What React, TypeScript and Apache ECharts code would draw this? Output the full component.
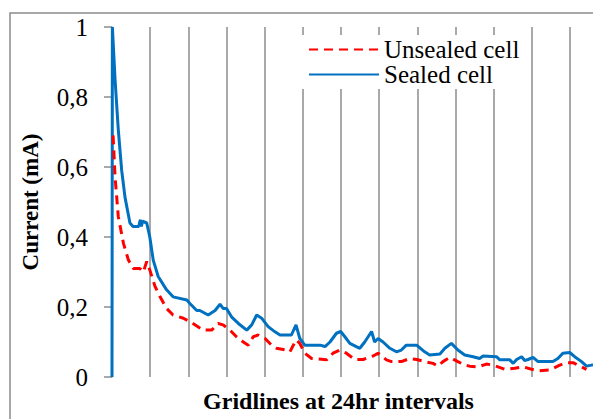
import React, { useEffect, useRef } from "react";
import * as echarts from "echarts";

// x in days (gridlines at 24 h intervals), y in mA
const sealedDays = [0, 0.01, 0.08, 0.165, 0.254, 0.34, 0.47, 0.55, 0.7, 0.73, 0.75, 0.77, 0.8, 0.91, 0.99, 1.08, 1.21, 1.43, 1.6, 1.96, 2.04, 2.22, 2.3, 2.52, 2.7, 2.83, 2.91, 3.0, 3.13, 3.31, 3.53, 3.66, 3.79, 3.92, 4.09, 4.27, 4.4, 4.7, 4.82, 4.92, 5.05, 5.45, 5.58, 5.71, 5.88, 5.99, 6.1, 6.23, 6.49, 6.62, 6.8, 6.88, 6.97, 7.1, 7.28, 7.45, 7.58, 7.71, 7.98, 8.19, 8.32, 8.59, 8.72, 8.89, 9.06, 9.24, 9.46, 9.63, 9.72, 10.07, 10.16, 10.42, 10.51, 10.6, 10.73, 10.81, 10.9, 11.03, 11.16, 11.55, 11.68, 11.81, 11.99, 12.12, 12.3, 12.43, 12.56, 12.6];
const sealedValues = [0, 1.0, 0.85, 0.706, 0.59, 0.514, 0.44, 0.43, 0.43, 0.445, 0.449, 0.43, 0.445, 0.44, 0.4, 0.334, 0.287, 0.249, 0.229, 0.22, 0.21, 0.19, 0.19, 0.177, 0.19, 0.208, 0.196, 0.196, 0.172, 0.153, 0.134, 0.149, 0.177, 0.168, 0.144, 0.129, 0.12, 0.12, 0.149, 0.11, 0.091, 0.091, 0.087, 0.1, 0.125, 0.13, 0.115, 0.096, 0.082, 0.1, 0.13, 0.1, 0.11, 0.1, 0.082, 0.072, 0.077, 0.091, 0.091, 0.072, 0.063, 0.066, 0.082, 0.096, 0.077, 0.063, 0.058, 0.053, 0.06, 0.058, 0.049, 0.049, 0.039, 0.05, 0.058, 0.047, 0.05, 0.056, 0.044, 0.044, 0.053, 0.068, 0.07, 0.058, 0.044, 0.031, 0.034, 0.035];

const unsealedDays = [0.02, 0.03, 0.08, 0.165, 0.3, 0.43, 0.56, 0.73, 0.82, 0.91, 0.99, 1.13, 1.26, 1.43, 1.6, 1.87, 2.09, 2.39, 2.61, 2.78, 2.91, 3.09, 3.26, 3.44, 3.57, 3.7, 3.83, 4.01, 4.18, 4.31, 4.57, 4.66, 4.82, 4.92, 5.05, 5.23, 5.62, 5.79, 5.97, 6.14, 6.36, 6.58, 6.84, 6.97, 7.19, 7.32, 7.58, 7.8, 7.98, 8.19, 8.41, 8.54, 8.67, 8.85, 9.06, 9.24, 9.37, 9.59, 9.81, 9.98, 10.29, 10.55, 10.77, 10.99, 11.2, 11.47, 11.73, 11.9, 12.08, 12.25, 12.43];
const unsealedValues = [0.69, 0.687, 0.572, 0.458, 0.382, 0.334, 0.31, 0.31, 0.3, 0.33, 0.306, 0.258, 0.229, 0.196, 0.177, 0.168, 0.155, 0.134, 0.134, 0.153, 0.149, 0.134, 0.115, 0.1, 0.091, 0.115, 0.12, 0.11, 0.091, 0.082, 0.077, 0.072, 0.106, 0.096, 0.068, 0.053, 0.049, 0.068, 0.077, 0.068, 0.05, 0.05, 0.06, 0.068, 0.049, 0.044, 0.044, 0.053, 0.05, 0.044, 0.039, 0.031, 0.044, 0.056, 0.044, 0.034, 0.031, 0.029, 0.037, 0.034, 0.022, 0.025, 0.029, 0.022, 0.018, 0.02, 0.034, 0.041, 0.041, 0.031, 0.022];

const yTickLabels = ["0", "0,2", "0,4", "0,6", "0,8", "1"];
const seriesNames = ["Unsealed cell", "Sealed cell"];

const serif = "'Liberation Serif', 'Times New Roman', serif";

export default function App() {
  const ref = useRef<HTMLDivElement>(null);
  useEffect(() => {
    if (!ref.current) return;
    const chart = echarts.init(ref.current, null, { renderer: "svg" });
    const zip = (xs: number[], ys: number[]) => xs.map((x, i) => [x, ys[i]]);
    chart.setOption({
      animation: false,
      backgroundColor: "#fff",
      graphic: [
        {
          type: "rect",
          shape: { x: 10, y: 13, width: 640, height: 440 },
          style: { fill: "none", stroke: "#8c8c8c", lineWidth: 1.5 },
          silent: true,
          z: -1,
        },
      ],
      grid: { left: 112, right: 0, top: 27, bottom: 42 },
      legend: {
        orient: "vertical",
        left: 298,
        top: 35,
        backgroundColor: "#fff",
        padding: [2, 10, 2, 10],
        itemGap: 0,
        itemWidth: 70,
        itemHeight: 14,
        data: seriesNames,
        itemStyle: { opacity: 0 },
        textStyle: { fontFamily: serif, fontSize: 25, color: "#000" },
      },
      xAxis: {
        type: "value",
        min: 0,
        max: 12.6,
        interval: 1,
        name: "Gridlines at 24hr intervals",
        nameLocation: "middle",
        nameGap: 12,
        nameTextStyle: {
          fontFamily: serif,
          fontSize: 24,
          fontWeight: "bold",
          color: "#000",
          padding: [0, 28, 0, 0],
        },
        axisLine: { show: false },
        axisTick: { show: false },
        axisLabel: { show: false },
        splitLine: {
          show: true,
          showMaxLine: false,
          lineStyle: { color: "#8c8c8c", width: 1.5 },
        },
      },
      yAxis: {
        type: "value",
        min: 0,
        max: 1,
        interval: 0.2,
        name: "Current (mA)",
        nameLocation: "middle",
        nameGap: 70,
        nameTextStyle: {
          fontFamily: serif,
          fontSize: 23,
          fontWeight: "bold",
          color: "#000",
        },
        axisLine: { show: true, lineStyle: { color: "#8c8c8c", width: 1.5 } },
        axisTick: { show: true, length: 8, lineStyle: { color: "#8c8c8c", width: 1.5 } },
        axisLabel: {
          margin: 24,
          fontFamily: serif,
          fontSize: 25,
          color: "#000",
          formatter: (v: number) => yTickLabels[Math.round(v / 0.2)] ?? "",
        },
        splitLine: { show: false },
      },
      series: [
        {
          name: seriesNames[0],
          type: "line",
          data: zip(unsealedDays, unsealedValues),
          showSymbol: false,
          symbol: "none",
          lineStyle: { color: "#ff0000", width: 3, type: [9, 6] },
          itemStyle: { color: "#ff0000" },
          z: 3,
        },
        {
          name: seriesNames[1],
          type: "line",
          data: zip(sealedDays, sealedValues),
          showSymbol: false,
          symbol: "none",
          lineStyle: { color: "#0070c0", width: 3 },
          itemStyle: { color: "#0070c0" },
          z: 2,
        },
      ],
    });
    return () => chart.dispose();
  }, []);
  return (
    <div
      ref={ref}
      style={{ position: "fixed", left: 0, top: 0, width: 593, height: 419 }}
    />
  );
}
